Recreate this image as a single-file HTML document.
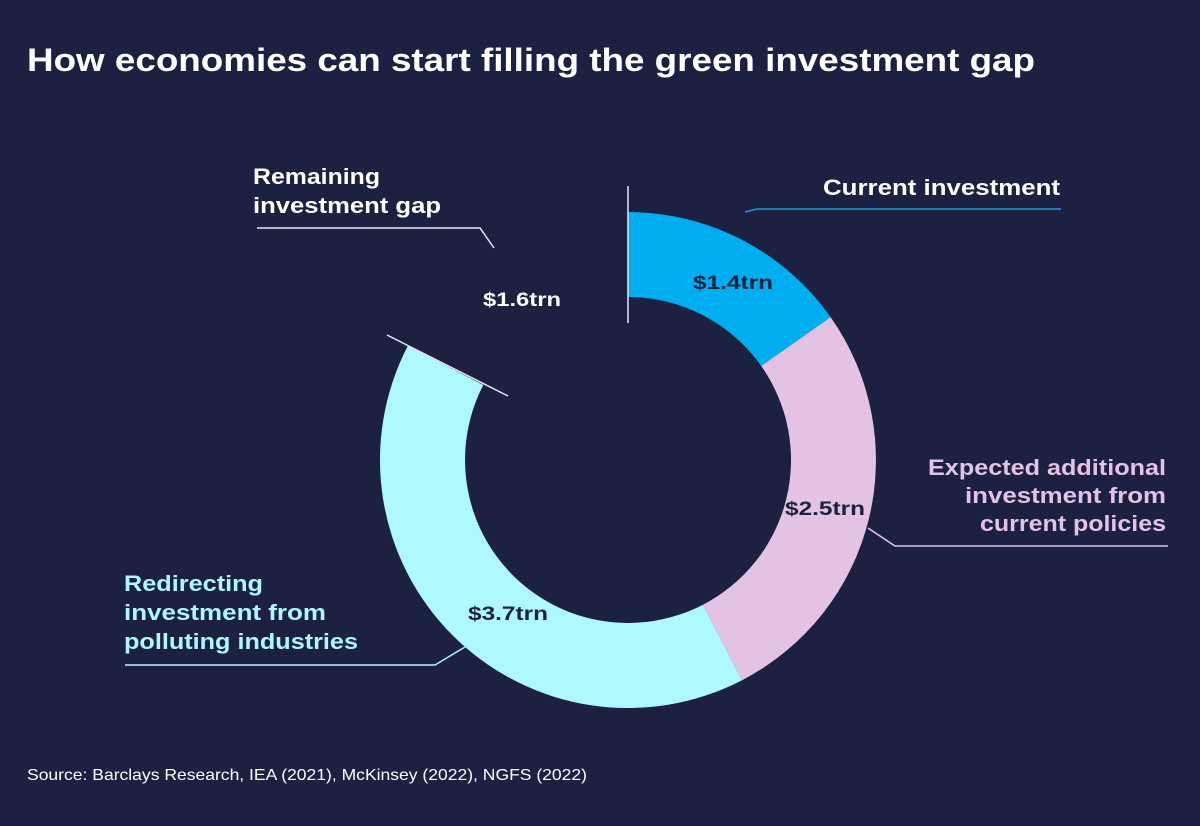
<!DOCTYPE html>
<html><head><meta charset="utf-8"><style>
html,body{margin:0;padding:0;background:#1c2141;}
svg{display:block;font-family:"Liberation Sans",sans-serif;}
</style></head><body>
<svg width="1200" height="826" viewBox="0 0 1200 826" xmlns="http://www.w3.org/2000/svg">
<rect width="1200" height="826" fill="#1c2141"/>
<text x="27" y="71" fill="#ffffff" font-size="32" font-weight="bold" textLength="1008" lengthAdjust="spacingAndGlyphs">How economies can start filling the green investment gap</text>
<path d="M628,212 A248,248 0 0 1 830.6,317.1 L761.2,366.0 A163,163 0 0 0 628,297 Z" fill="#00aeef"/>
<path d="M830.6,317.1 A248,248 0 0 1 742.1,680.2 L703.0,604.7 A163,163 0 0 0 761.2,366.0 Z" fill="#e3c2e4"/>
<path d="M742.1,680.2 A248,248 0 0 1 407.8,345.9 L483.3,385.0 A163,163 0 0 0 703.0,604.7 Z" fill="#adf9ff"/>
<line x1="628" y1="186" x2="628" y2="323" stroke="#e8e8f0" stroke-width="1.5"/>
<line x1="387" y1="335" x2="508" y2="396" stroke="#e8e8f0" stroke-width="1.5"/>
<polyline points="745,212 757,209 1061,209" fill="none" stroke="#1b9ad6" stroke-width="1.5"/>
<polyline points="257,228 480,228 494,248" fill="none" stroke="#e8e8f0" stroke-width="1.5"/>
<polyline points="868,528 895,546 1168,546" fill="none" stroke="#e3c2e4" stroke-width="1.5"/>
<polyline points="125,665 435,665 465,647" fill="none" stroke="#adf9ff" stroke-width="1.5"/>
<g font-size="22" font-weight="bold" lengthAdjust="spacingAndGlyphs">
<text x="823" y="195" fill="#ffffff" textLength="237" lengthAdjust="spacingAndGlyphs">Current investment</text>
<text x="253" y="184" fill="#ffffff" textLength="127" lengthAdjust="spacingAndGlyphs">Remaining</text>
<text x="253" y="213" fill="#ffffff" textLength="188" lengthAdjust="spacingAndGlyphs">investment gap</text>
<text x="928" y="475" fill="#e3c2e4" textLength="238" lengthAdjust="spacingAndGlyphs">Expected additional</text>
<text x="965" y="503" fill="#e3c2e4" textLength="201" lengthAdjust="spacingAndGlyphs">investment from</text>
<text x="980" y="531" fill="#e3c2e4" textLength="186" lengthAdjust="spacingAndGlyphs">current policies</text>
<text x="124" y="591" fill="#adf9ff" textLength="139" lengthAdjust="spacingAndGlyphs">Redirecting</text>
<text x="124" y="620" fill="#adf9ff" textLength="202" lengthAdjust="spacingAndGlyphs">investment from</text>
<text x="124" y="649" fill="#adf9ff" textLength="234" lengthAdjust="spacingAndGlyphs">polluting industries</text>
</g>
<g font-size="19" font-weight="bold">
<text x="693" y="289" fill="#1c2141" textLength="80" lengthAdjust="spacingAndGlyphs">$1.4trn</text>
<text x="483" y="306" fill="#ffffff" textLength="78" lengthAdjust="spacingAndGlyphs">$1.6trn</text>
<text x="785" y="515" fill="#1c2141" textLength="80" lengthAdjust="spacingAndGlyphs">$2.5trn</text>
<text x="468" y="620" fill="#1c2141" textLength="80" lengthAdjust="spacingAndGlyphs">$3.7trn</text>
</g>
<text x="27" y="780" fill="#ffffff" font-size="16" textLength="560" lengthAdjust="spacingAndGlyphs">Source: Barclays Research, IEA (2021), McKinsey (2022), NGFS (2022)</text>
</svg>
</body></html>
